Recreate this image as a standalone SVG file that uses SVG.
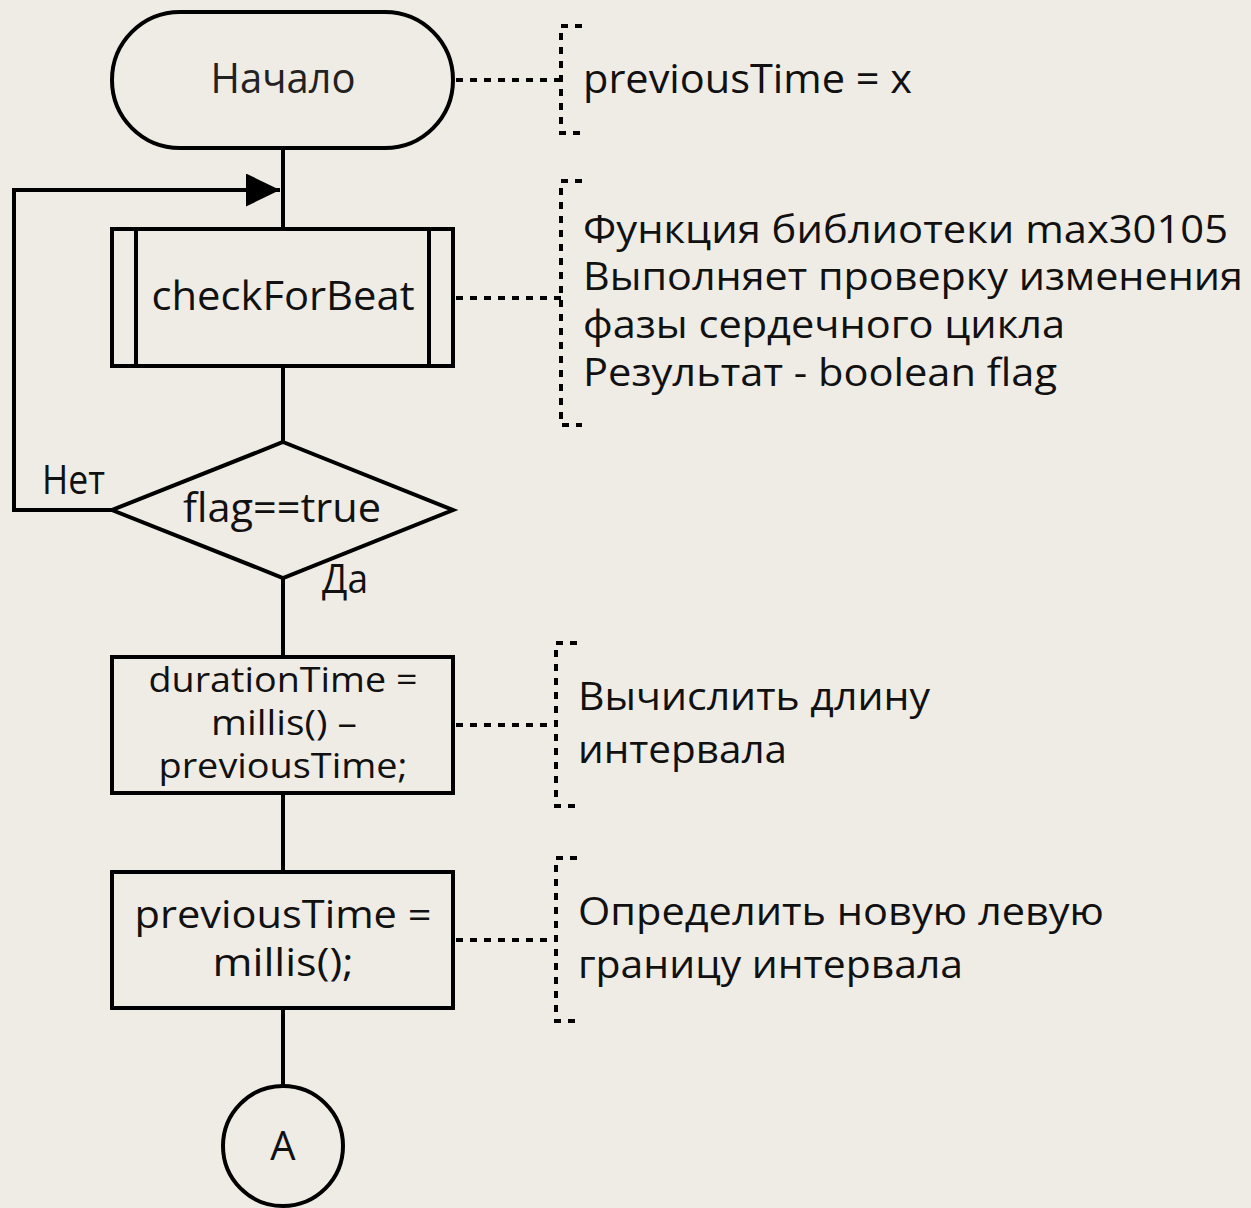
<svg xmlns="http://www.w3.org/2000/svg" width="1251" height="1208" viewBox="0 0 1251 1208">
<defs>
<style>
.bg{fill:#efece5}
.node{fill:none;stroke:#000;stroke-width:4}
.line{fill:none;stroke:#000;stroke-width:4}
.dot{fill:none;stroke:#000;stroke-width:4;stroke-dasharray:7 7}
text{font-family:"Open Sans","Noto Sans","DejaVu Sans",sans-serif;fill:#111}
.c{text-anchor:middle}
.t40{font-size:40px}
.t38{font-size:38px}
.t34{font-size:34px}
.t42{font-size:42px;fill:#222}
</style>
<marker id="arr" viewBox="0 0 10 10" refX="10" refY="5" markerUnits="userSpaceOnUse" markerWidth="34" markerHeight="33" preserveAspectRatio="none" orient="auto">
<path d="M0,0 L10,5 L0,10 z" fill="#000"/>
</marker>
</defs>
<rect class="bg" x="0" y="0" width="1251" height="1208"/>

<g id="connectors">
<path class="line" d="M283,148 V229"/>
<path class="line" d="M283,366 V442"/>
<path class="line" d="M283,578 V657"/>
<path class="line" d="M283,793 V872"/>
<path class="line" d="M283,1008 V1086"/>
<path class="line" d="M112,510 H14 V190 H280" marker-end="url(#arr)"/>
<text class="t40" x="42" y="494" textLength="63" lengthAdjust="spacingAndGlyphs">Нет</text>
<text class="t40" x="322" y="593" textLength="46" lengthAdjust="spacingAndGlyphs">Да</text>
<path class="dot" d="M456,80 H561"/>
<path class="dot" d="M456,298 H561"/>
<path class="dot" d="M456,725 H556"/>
<path class="dot" d="M456,940 H556"/>
</g>

<g id="start">
<rect class="node" x="112" y="12" width="341" height="136" rx="68" ry="68"/>
<text class="t42 c" x="283" y="93" textLength="145" lengthAdjust="spacingAndGlyphs">Начало</text>
</g>

<g id="note-start">
<path class="dot" d="M582,26 H561 V133 H582"/>
<text class="t40" x="583" y="93" textLength="329" lengthAdjust="spacingAndGlyphs">previousTime = x</text>
</g>

<g id="checkForBeat">
<rect class="node" x="112" y="229" width="341" height="137"/>
<path class="node" d="M136,229 V366 M429,229 V366"/>
<text class="t40 c" x="283" y="310" textLength="263" lengthAdjust="spacingAndGlyphs">checkForBeat</text>
</g>

<g id="note-check">
<path class="dot" d="M582,181 H561 V425 H582"/>
<text class="t38" x="583" y="243" textLength="645" lengthAdjust="spacingAndGlyphs">Функция библиотеки max30105</text>
<text class="t38" x="583" y="290" textLength="660" lengthAdjust="spacingAndGlyphs">Выполняет проверку изменения</text>
<text class="t38" x="583" y="338" textLength="482" lengthAdjust="spacingAndGlyphs">фазы сердечного цикла</text>
<text class="t38" x="583" y="386" textLength="474" lengthAdjust="spacingAndGlyphs">Результат - boolean flag</text>
</g>

<g id="decision">
<path class="node" d="M283,442 L453,510 L283,578 L112,510 Z"/>
<text class="t40 c" x="282" y="522" textLength="198" lengthAdjust="spacingAndGlyphs">flag==true</text>
</g>

<g id="duration">
<rect class="node" x="112" y="657" width="341" height="136"/>
<text class="t34 c" x="283" y="692" textLength="269" lengthAdjust="spacingAndGlyphs">durationTime =</text>
<text class="t34 c" x="284" y="735" textLength="146" lengthAdjust="spacingAndGlyphs">millis() –</text>
<text class="t34 c" x="283" y="778" textLength="249" lengthAdjust="spacingAndGlyphs">previousTime;</text>
</g>

<g id="note-duration">
<path class="dot" d="M577,643 H556 V806 H577"/>
<text class="t38" x="578" y="710" textLength="352" lengthAdjust="spacingAndGlyphs">Вычислить длину</text>
<text class="t38" x="578" y="763" textLength="209" lengthAdjust="spacingAndGlyphs">интервала</text>
</g>

<g id="previous">
<rect class="node" x="112" y="872" width="341" height="136"/>
<text class="t38 c" x="283" y="928" textLength="297" lengthAdjust="spacingAndGlyphs">previousTime =</text>
<text class="t38 c" x="283" y="976" textLength="141" lengthAdjust="spacingAndGlyphs">millis();</text>
</g>

<g id="note-previous">
<path class="dot" d="M577,858 H556 V1021 H577"/>
<text class="t38" x="578" y="925" textLength="526" lengthAdjust="spacingAndGlyphs">Определить новую левую</text>
<text class="t38" x="578" y="978" textLength="385" lengthAdjust="spacingAndGlyphs">границу интервала</text>
</g>

<g id="connector-A">
<circle class="node" cx="283" cy="1146" r="60"/>
<text class="t40 c" x="283" y="1160">A</text>
</g>
</svg>
